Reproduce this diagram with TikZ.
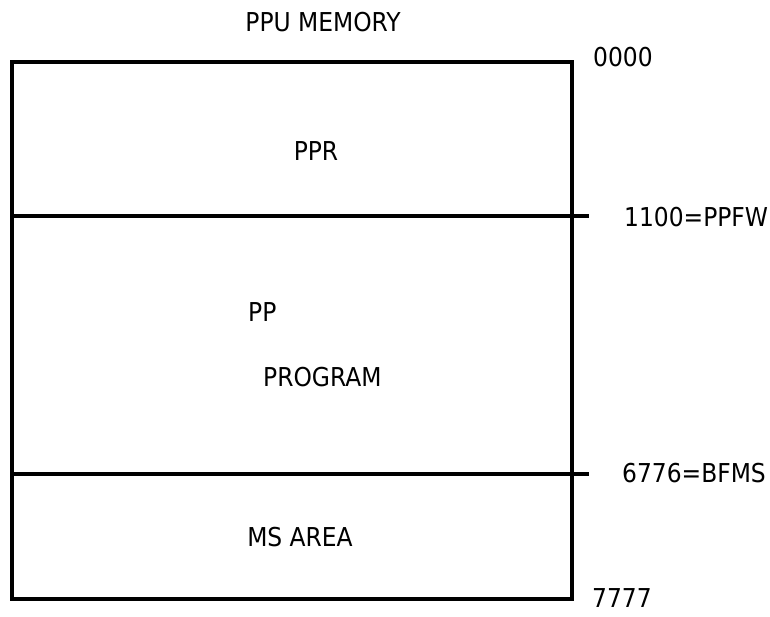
\documentclass[tikz,border=0pt]{standalone}
\usepackage{fontspec}
\setmainfont{DejaVu Sans Condensed}
\begin{document}
\begin{tikzpicture}[x=1pt,y=-1pt,
  lbl/.style={font=\fontsize{26}{30}\selectfont, inner sep=0pt},
  rule/.style={line width=3.2pt}]
\useasboundingbox (0,0) rectangle (770,616);
\node[draw, rule, minimum width=560pt, minimum height=537pt, inner sep=0pt] (mem) at (292,330.5) {};
\coordinate (d1e) at (589,216);
\coordinate (d2e) at (589,474);
\draw[rule] (mem.west |- d1e) -- (d1e);
\draw[rule] (mem.west |- d2e) -- (d2e);
\node[lbl] (title) at (323,22) {PPU MEMORY};
\node[lbl, anchor=west] (a0) at (593,57) {0000};
\node[lbl, anchor=west] (a1) at (624,217) {1100=PPFW};
\node[lbl, anchor=west] (a2) at (622,473) {6776=BFMS};
\node[lbl, anchor=west] (a3) at (592,598) {7777};
\node[lbl] (ppr) at (316,151) {PPR};
\node[lbl, anchor=west] (pp) at (248,312) {PP};
\node[lbl, anchor=west] (prog) at (263,377) {PROGRAM};
\node[lbl] (ms) at (300,537) {MS AREA};
\end{tikzpicture}
\end{document}
